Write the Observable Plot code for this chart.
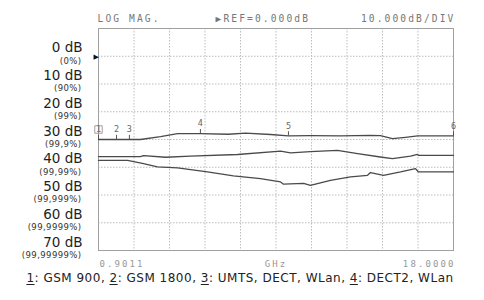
<!DOCTYPE html>
<html>
<head>
<meta charset="utf-8">
<script src="https://cdn.jsdelivr.net/npm/d3@7"></script>
<script src="https://cdn.jsdelivr.net/npm/@observablehq/plot@0.6"></script>
<style>
  body { margin: 0; background: #fff; }
  #wrap { position: relative; width: 484px; height: 300px; }
  .mono-sp text { letter-spacing: 2.1px; }
  .pct-sp text { letter-spacing: 0.4px; }
  #cap { font-family: "DejaVu Sans", sans-serif; font-size: 12px; letter-spacing: 0.5px; color: #222; text-align: center;
         width: 484px; line-height: 14px; margin-top: 3px; margin-left: -2px; white-space: nowrap; }
  #cap u { text-decoration-thickness: 1px; text-underline-offset: 2px; }
</style>
</head>
<body>
<div id="wrap"></div>
<script>
// Frequency span (GHz)
const fStart = 0.9011, fStop = 18.0;
// Level axis ticks (dB) and percentage sub-labels
const dbTicks = [0, 10, 20, 30, 40, 50, 60, 70];
const pctLabels = ["(0%)", "(90%)", "(99%)", "(99,9%)", "(99,99%)", "(99,999%)", "(99,9999%)", "(99,99999%)"];

// Trace 1 (upper)
const topF  = [0.90, 2.92, 3.89, 4.71, 5.81, 7.16, 7.98, 9.19, 10.05, 11.11, 12.56, 14.00, 14.48, 15.06, 15.69, 16.27, 18.00];
const topDb = [30.0, 30.0, 29.0, 27.9, 27.9, 28.1, 27.7, 28.2, 28.7, 28.6, 28.7, 28.5, 28.6, 29.7, 29.2, 28.7, 28.7];
// Trace 2 (middle)
const midF  = [0.90, 2.92, 3.07, 4.13, 5.33, 7.60, 9.67, 10.15, 11.11, 12.41, 13.38, 14.48, 15.06, 15.93, 16.27, 16.31, 18.00];
const midDb = [36.2, 36.2, 35.8, 36.4, 36.0, 35.4, 34.2, 34.8, 34.4, 33.9, 35.1, 36.3, 36.9, 36.0, 35.4, 35.7, 35.7];
// Trace 3 (lower)
const lowF  = [0.90, 2.30, 3.07, 3.74, 4.71, 6.15, 7.40, 8.70, 9.67, 9.81, 10.78, 11.11, 12.07, 13.04, 13.86, 14.00, 14.63, 15.45, 16.17, 16.31, 18.00];
const lowDb = [37.5, 37.5, 38.7, 39.9, 40.2, 41.7, 43.1, 44.1, 45.3, 46.1, 45.8, 46.5, 44.7, 43.5, 42.9, 41.9, 42.9, 41.7, 40.5, 41.7, 41.7];

// Markers on trace 1
const markerF  = [0.9011, 1.77, 2.39, 5.81, 10.05, 18.0];
const markerDb = [30.0, 30.0, 30.0, 27.9, 28.7, 28.7];
const markerLabels = ["1", "2", "3", "4", "5", "6"];

// Header / x labels
const headerLeft = "LOG MAG.";
const headerMid = "\u25B6REF=0.000dB";
const headerRight = "10.000dB/DIV";
const xUnit = "GHz";
const xStartLabel = "0.9011";
const xStopLabel = "18.0000";

const xDivs = d3.range(11).map(i => fStart + i * (fStop - fStart) / 10);
const yDivs = d3.range(-10, 71, 10);

const traces = [
  ...topF.map((f, i) => ({f, db: topDb[i], s: "t1"})),
  ...midF.map((f, i) => ({f, db: midDb[i], s: "t2"})),
  ...lowF.map((f, i) => ({f, db: lowDb[i], s: "t3"}))
];
const markers = markerF.map((f, i) => ({f, db: markerDb[i], label: markerLabels[i]}));

const mono = "DejaVu Sans Mono, monospace";
const sans = "DejaVu Sans, sans-serif";

const chart = Plot.plot({
  width: 484,
  height: 268,
  marginLeft: 98,
  marginRight: 31,
  marginTop: 28,
  marginBottom: 18,
  x: {domain: [fStart, fStop], axis: null},
  y: {domain: [-10, 70], reverse: true, axis: null},
  marks: [
    Plot.ruleX(xDivs, {x: d => d, stroke: "#bdbdbd", strokeDasharray: "1.5,1.5", strokeWidth: 1}),
    Plot.ruleY(yDivs, {y: d => d, stroke: "#bdbdbd", strokeDasharray: "1.5,1.5", strokeWidth: 1}),
    Plot.frame({stroke: "#a0a0a0", strokeWidth: 1}),
    Plot.line(traces, {x: "f", y: "db", z: "s", stroke: "#4a4a4a", strokeWidth: 1.3}),
    // markers
    Plot.ruleX(markers, {x: "f", y1: "db", y2: d => d.db - 1.5, stroke: "#555", strokeWidth: 1}),
    Plot.text(markers, {x: "f", y: "db", text: "label", dy: -10, fontSize: 8.5, fontFamily: mono, fill: "#666"}),
    Plot.dot(markers.filter(d => d.label === "1"), {x: "f", y: "db", dy: -10, symbol: "square", r: 4.2, stroke: "#888", strokeWidth: 0.8, fill: "none"}),
    // left axis labels
    Plot.text(dbTicks, {y: d => d, text: d => `${d} dB`, frameAnchor: "left", textAnchor: "end", lineAnchor: "bottom", dx: -16, dy: -4, fontSize: 13.5, fontFamily: sans, fill: "#1e1e1e"}),
    Plot.text(dbTicks, {y: d => d, text: (d, i) => pctLabels[i], frameAnchor: "left", textAnchor: "end", lineAnchor: "bottom", dx: -17, dy: 7.4, fontSize: 8.5, fontFamily: sans, fill: "#333", className: "pct-sp"}),
    Plot.text([0], {y: d => d, text: () => "\u25B6", frameAnchor: "left", dx: -5, fontSize: 7, fontFamily: sans, fill: "#111"}),
    // header
    Plot.text([headerLeft], {frameAnchor: "top-left", text: d => d, textAnchor: "start", lineAnchor: "bottom", dx: -1, dy: -6.3, fontSize: 9.6, fontFamily: mono, fill: "#777", className: "mono-sp"}),
    Plot.text([headerMid], {frameAnchor: "top-left", text: d => d, textAnchor: "start", lineAnchor: "bottom", dx: 117, dy: -6.3, fontSize: 9.6, fontFamily: mono, fill: "#777", className: "mono-sp"}),
    Plot.text([headerRight], {frameAnchor: "top-right", text: d => d, textAnchor: "end", lineAnchor: "bottom", dx: 2, dy: -6.3, fontSize: 9.6, fontFamily: mono, fill: "#777", className: "mono-sp"}),
    // x labels
    Plot.text([xStartLabel], {frameAnchor: "bottom-left", text: d => d, textAnchor: "start", lineAnchor: "bottom", dx: 1, dy: 16.5, fontSize: 9, fontFamily: mono, fill: "#999", className: "mono-sp"}),
    Plot.text([xUnit], {frameAnchor: "bottom", text: d => d, textAnchor: "middle", lineAnchor: "bottom", dy: 16.5, fontSize: 9, fontFamily: mono, fill: "#999", className: "mono-sp"}),
    Plot.text([xStopLabel], {frameAnchor: "bottom-right", text: d => d, textAnchor: "end", lineAnchor: "bottom", dx: 2, dy: 16.5, fontSize: 9, fontFamily: mono, fill: "#999", className: "mono-sp"})
  ]
});

// Ensure letter-spacing applies even if className is not supported by this Plot build
d3.select(chart).selectAll("g").each(function () {
  const ff = this.getAttribute("font-family") || "";
  const fs = this.getAttribute("font-size") || "";
  if (ff.startsWith("DejaVu Sans Mono") && (fs === "9.6" || fs === "9")) d3.select(this).selectAll("text").style("letter-spacing", "2.1px");
  if (fs === "8.5" && !ff.startsWith("DejaVu Sans Mono")) d3.select(this).selectAll("text").style("letter-spacing", "0.4px");
});

const wrap = document.getElementById("wrap");
wrap.appendChild(chart);
const cap = document.createElement("div");
cap.id = "cap";
cap.innerHTML = "<u>1</u>: GSM 900, <u>2</u>: GSM 1800, <u>3</u>: UMTS, DECT, WLan, <u>4</u>: DECT2, WLan";
wrap.appendChild(cap);
</script>
</body>
</html>
